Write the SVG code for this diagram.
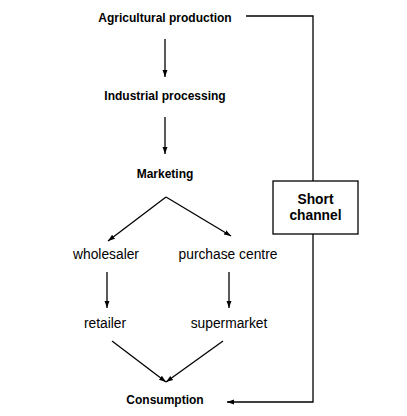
<svg xmlns="http://www.w3.org/2000/svg" width="407" height="416" viewBox="0 0 407 416">
<style>
.b{font-family:"Liberation Sans",Arial,sans-serif;font-weight:bold;font-size:12px;fill:#000;text-anchor:middle}
.n{font-family:"Liberation Sans",Arial,sans-serif;font-size:13.8px;fill:#000;text-anchor:middle}
.s{font-family:"Liberation Sans",Arial,sans-serif;font-weight:bold;font-size:13.8px;fill:#000;text-anchor:middle}
.c{stroke:#000;stroke-width:1.3;fill:none}
</style>
<defs>
<marker id="a" viewBox="0 0 10 10" refX="10" refY="5" markerWidth="7" markerHeight="7" markerUnits="userSpaceOnUse" orient="auto"><path d="M0,1.5 L10,5 L0,8.5 Z" fill="#000"/></marker>
</defs>
<rect width="407" height="416" fill="#fff"/>
<g id="connectors">
<line class="c" x1="165" y1="39" x2="165" y2="77" marker-end="url(#a)"/>
<line class="c" x1="165" y1="117" x2="165" y2="154" marker-end="url(#a)"/>
<line class="c" x1="166" y1="197" x2="108" y2="241" marker-end="url(#a)"/>
<line class="c" x1="166" y1="197" x2="231" y2="236" marker-end="url(#a)"/>
<line class="c" x1="107" y1="272" x2="107" y2="308" marker-end="url(#a)"/>
<line class="c" x1="229" y1="272" x2="229" y2="308" marker-end="url(#a)"/>
<line class="c" x1="112" y1="341" x2="166" y2="382" marker-end="url(#a)"/>
<line class="c" x1="223" y1="341" x2="166" y2="382" marker-end="url(#a)"/>
<polyline class="c" points="246,16 313,16 313,181"/>
<polyline class="c" points="313,234 313,402 227,402" marker-end="url(#a)"/>
</g>
<g id="agricultural-production"><text class="b" x="165" y="22">Agricultural production</text></g>
<g id="industrial-processing"><text class="b" x="165" y="100">Industrial processing</text></g>
<g id="marketing"><text class="b" x="165" y="178">Marketing</text></g>
<g id="wholesaler"><text class="n" x="106" y="259">wholesaler</text></g>
<g id="purchase-centre"><text class="n" x="228" y="259">purchase centre</text></g>
<g id="retailer"><text class="n" x="105" y="328">retailer</text></g>
<g id="supermarket"><text class="n" x="229" y="328">supermarket</text></g>
<g id="consumption"><text class="b" x="165" y="404">Consumption</text></g>
<g id="short-channel">
<rect x="273" y="181" width="85" height="53" fill="#fff" stroke="#000" stroke-width="1.3"/>
<text class="s" x="315.5" y="204">Short</text>
<text class="s" x="315.5" y="220">channel</text>
</g>
</svg>
